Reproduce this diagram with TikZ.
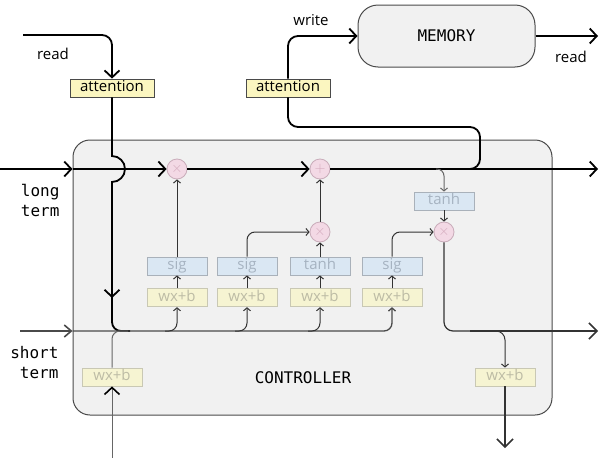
\documentclass[tikz,border=0pt]{standalone}
\usepackage{fontspec}
\setmainfont{Open Sans}
\newfontfamily\monofont{DejaVu Sans Mono}
\usetikzlibrary{arrows.meta,positioning}

\definecolor{ctrlfill}{HTML}{F1F1F1}
\definecolor{edgegray}{HTML}{4A4A4A}
\definecolor{attfill}{HTML}{FBF6C0}
\definecolor{wxfill}{HTML}{F6F4D2}
\definecolor{wxedge}{HTML}{C9C8B4}
\definecolor{wxtext}{HTML}{BDBCA5}
\definecolor{sigfill}{HTML}{DAE7F3}
\definecolor{sigedge}{HTML}{A9B1BA}
\definecolor{sigtext}{HTML}{A6B3C1}
\definecolor{opfill}{HTML}{F3D9E5}
\definecolor{opedge}{HTML}{C9ACBA}
\definecolor{optext}{HTML}{D3A9BC}

\begin{document}
\begin{tikzpicture}[x=1pt, y=-1pt,
    every node/.style={font=\fontsize{15}{17}\selectfont},
    mono/.style={font=\monofont\fontsize{16}{20}\selectfont},
    panel/.style={rectangle, rounded corners=17pt, draw=edgegray, line width=1pt, fill=ctrlfill},
    gatebox/.style={rectangle, minimum width=60pt, minimum height=18pt, inner sep=0pt,
      text height=10.5pt, text depth=3pt, line width=0.8pt},
    wx/.style={gatebox, fill=wxfill, draw=wxedge, text=wxtext},
    act/.style={gatebox, fill=sigfill, draw=sigedge, text=sigtext},
    attn/.style={gatebox, minimum width=84pt, fill=attfill, draw=edgegray, text=black},
    op/.style={circle, minimum size=20pt, inner sep=0pt, fill=opfill, draw=opedge,
      text=optext, line width=0.8pt},
    bigline/.style={line width=1.8pt, black},
    bigarrow/.style={bigline, -{Straight Barb[length=7pt,width=15pt]}},
    midline/.style={line width=1.3pt, edgegray},
    midarrow/.style={midline, -{Straight Barb[length=7pt,width=12pt,line width=1.6pt]}},
    wire/.style={line width=1pt, black!80, -{Straight Barb[length=3pt,width=7pt]}},
    wireout/.style={line width=1.2pt, black!80, -{Straight Barb[length=8pt,width=16pt,line width=1.5pt]}},
    node distance=13pt]
  \useasboundingbox (0,0) rectangle (606,458);

  % controller and memory
  \node[panel, minimum width=479pt, minimum height=275pt] (ctrl) at (312.5,277.5) {};
  \node[mono] (ctrltxt) at (303,378) {CONTROLLER};
  \node[panel, rounded corners=20pt, minimum width=177pt, minimum height=62pt, mono] (mem) at (446.5,36) {MEMORY};

  % labels
  \node (readl) at (53,54) {read};
  \node (writel) at (311,20) {write};
  \node (readr) at (571,57) {read};
  \node[mono, align=right, anchor=east] (ltl) at (63,200) {long\\term};
  \node[mono, align=right, anchor=east] (stl) at (62,363) {short\\term};

  % gates
  \node[attn] (att1) at (112,88) {attention};
  \node[attn] (att2) at (288,88) {attention};
  \node[op] (m1) at (177,169) {$\times$};
  \node[op] (p1) at (320,169) {$+$};
  \node[op] (m2) at (320,232) {$\times$};
  \node[op] (m3) at (444,232) {$\times$};
  \node[act] (t5) at (444,201) {tanh};
  \node[act] (s1) at (177,266) {sig};
  \node[act] (s2) at (247,266) {sig};
  \node[act] (t3) at (320,266) {tanh};
  \node[act] (s4) at (392,266) {sig};
  \node[wx, below=of s1] (w1) {wx+b};
  \node[wx, below=of s2] (w2) {wx+b};
  \node[wx, below=of t3] (w3) {wx+b};
  \node[wx, below=of s4] (w4) {wx+b};
  \node[wx] (w0) at (112,377) {wx+b};
  \node[wx] (wo) at (505,377) {wx+b};

  \coordinate (readin) at (23,35);
  \coordinate (readout) at (598,36);
  \coordinate (ltin) at (0,169);
  \coordinate (ltout) at (598,169);
  \coordinate (stin) at (20,331);
  \coordinate (hbend) at (470,331);
  \coordinate (stout) at (598,331);
  \coordinate (xin) at (112,458);
  \coordinate (yout) at (505,448);

  % read path
  \draw[bigarrow, rounded corners=10pt] (readin) -| (att1.north);
  \draw[bigarrow] (att1.south) -- (112,156) arc[start angle=-90, end angle=90, radius=13] -- (112,298);
  \draw[bigline, rounded corners=9pt] (112,296) |- (130,331);

  % long term
  \draw[bigarrow] (ltin) -- (ctrl.west |- ltin);
  \draw[bigarrow] (ctrl.west |- ltin) -- (m1.west);
  \draw[bigarrow] (m1.east) -- (p1.west);
  \draw[bigarrow] (p1.east) -- (ltout);

  % write path
  \draw[bigline, rounded corners=10pt] (460,169) -| (480,127) -| (att2.south);
  \draw[bigarrow, rounded corners=10pt] (att2.north) |- (mem.west);
  \draw[bigarrow] (mem.east) -- (readout);

  % short term
  \draw[midarrow] (stin) -- (ctrl.west |- stin);
  \draw[midline, rounded corners=8pt, -{Straight Barb[length=3pt,width=7pt]}] (ctrl.west |- stin) -| (w4.south);
  \draw[wire, rounded corners=8pt] (165,331) -| (w1.south);
  \draw[wire, rounded corners=8pt] (235,331) -| (w2.south);
  \draw[wire, rounded corners=8pt] (308,331) -| (w3.south);
  \draw[line width=1pt, black!60, -{Straight Barb[length=7pt,width=15pt,line width=1.6pt,color=black]}] (xin) -- (w0.south);
  \draw[line width=1pt, black!60, rounded corners=8pt] (w0.north) |- (128,331);

  % inside the cell
  \draw[wire] (w1) -- (s1);
  \draw[wire] (w2) -- (s2);
  \draw[wire] (w3) -- (t3);
  \draw[wire] (w4) -- (s4);
  \draw[wire] (s1) -- (m1);
  \draw[wire, rounded corners=8pt] (s2.north) |- (m2.west);
  \draw[wire] (t3) -- (m2);
  \draw[wire] (m2) -- (p1);
  \draw[wire, black!60, rounded corners=7pt] (436,169) -| (t5.north);
  \draw[wire] (t5) -- (m3);
  \draw[wire, rounded corners=8pt] (s4.north) |- (m3.west);

  % output
  \draw[line width=1.2pt, black!80, rounded corners=9pt] (m3.south) |- (hbend);
  \draw[wireout] (hbend) -- (stout);
  \draw[wire, rounded corners=9pt] (493,331) -| (wo.north);
  \draw[wireout] (wo.south) -- (yout);
\end{tikzpicture}
\end{document}
